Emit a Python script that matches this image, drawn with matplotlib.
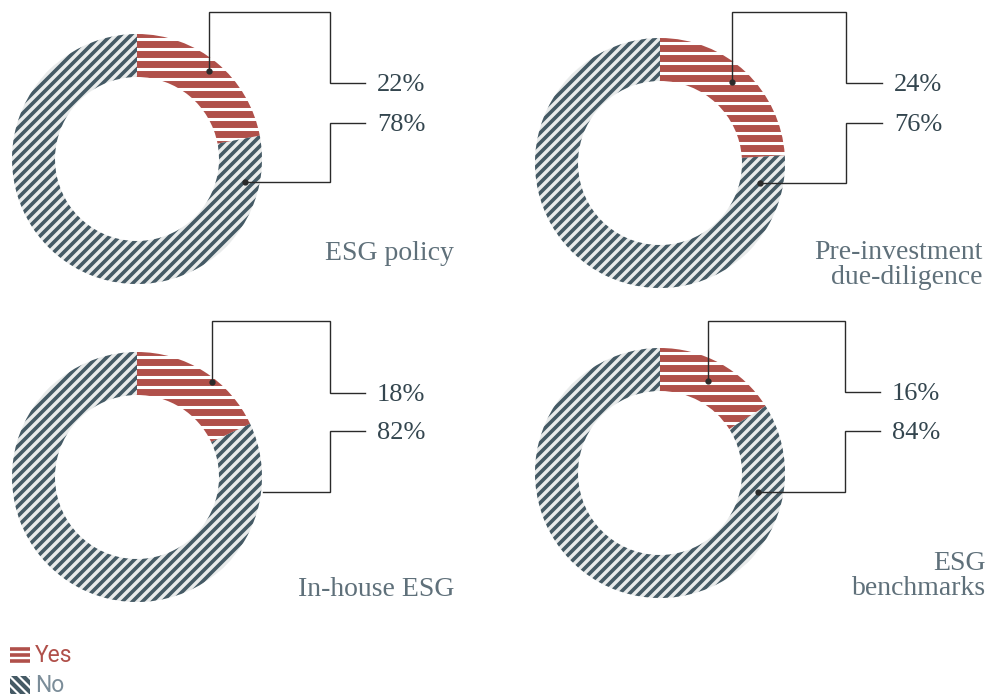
import numpy as np
import matplotlib
matplotlib.use("Agg")
import matplotlib.pyplot as plt
from matplotlib.collections import LineCollection
from matplotlib.patches import Rectangle

# data
categories = ["ESG policy", "Pre-investment\ndue-diligence", "In-house ESG", "ESG\nbenchmarks"]
yes_pct = [22, 24, 18, 16]
no_pct = [78, 76, 82, 84]
series = ["Yes", "No"]

# style
RED = "#b0504a"
SLATE = "#455a65"
SLATE_BG = "#e9ebeb"
TXT_DARK = "#34464f"
TXT_LIGHT = "#5f707a"
LINE = "#2a2a2a"
SERIF = "Liberation Serif"

W, H = 990, 696
R_OUT, R_W = 125, 43

# layout in pixel space (x right, y down)
centers = [(137, 159), (660, 163), (137, 477), (660, 473)]
# leader anchors relative to centre: yes dot, no dot, top of bracket, bracket x, end x
yes_dot = [(72, -88), (72, -81), (75, -95), (48, -92)]
no_dot = [(108, 23), (100, 20), (126, 15), (98, 19)]
no_dot_shown = [True, True, False, True]
top_off = [-147, -151, -156, -152]
brk_x = [193, 186, 193, 185]
end_x = [228, 222, 228, 220]
yes_lab_y = [-76, -80, -84, -81]
no_lab_y = [-36, -40, -46, -42]
cat_xy = [(454, 253), (983, 265), (454, 589), (986, 576)]
TXT_NUDGE = 2  # va="center" sits a bit high for digits


def stripes(ax, patch, cx, cy, r, kind, color, lw, step):
    segs = []
    if kind == "h":
        for y in np.arange(cy - r - step, cy + r + step, step):
            segs.append([(cx - r - 5, y), (cx + r + 5, y)])
    else:
        x0, x1 = cx - r - 10, cx + r + 10
        for k in np.arange(cx + cy - 2 * r - 20, cx + cy + 2 * r + 20, step):
            segs.append([(x0, k - x0), (x1, k - x1)])
    lc = LineCollection(segs, colors=color, linewidths=lw, capstyle="butt")
    ax.add_collection(lc)
    lc.set_clip_path(patch)


fig = plt.figure(figsize=(W / 100, H / 100), dpi=100)
ax = fig.add_axes([0, 0, 1, 1])

for i, (cx, cy) in enumerate(centers):
    wedges, _ = ax.pie([yes_pct[i], no_pct[i]], center=(cx, cy), radius=R_OUT,
                       startangle=-90, counterclock=True,
                       colors=["white", SLATE_BG],
                       wedgeprops=dict(width=R_W, linewidth=0))
    stripes(ax, wedges[0], cx, cy, R_OUT, "h", RED, 5.0, 10.0)
    stripes(ax, wedges[1], cx, cy, R_OUT, "d", SLATE, 2.6, 10.0)

    # leader lines
    yx, yy = cx + yes_dot[i][0], cy + yes_dot[i][1]
    bx, ex = cx + brk_x[i], cx + end_x[i]
    ty, ly = cy + top_off[i], cy + yes_lab_y[i]
    ax.plot([yx, yx, bx, bx, ex], [yy, ty, ty, ly, ly], color=LINE, lw=1.0,
            solid_joinstyle="miter")
    ax.plot([yx], [yy], "o", color=LINE, ms=3.5)
    nx, ny = cx + no_dot[i][0], cy + no_dot[i][1]
    nly = cy + no_lab_y[i]
    ax.plot([nx, bx, bx, ex], [ny, ny, nly, nly], color=LINE, lw=1.0,
            solid_joinstyle="miter")
    if no_dot_shown[i]:
        ax.plot([nx], [ny], "o", color=LINE, ms=3.5)

    ax.text(ex + 12, ly + TXT_NUDGE, f"{yes_pct[i]}%", family=SERIF, fontsize=19,
            color=TXT_DARK, va="center", ha="left")
    ax.text(ex + 12, nly + TXT_NUDGE, f"{no_pct[i]}%", family=SERIF, fontsize=19,
            color=TXT_DARK, va="center", ha="left")
    ax.text(cat_xy[i][0], cat_xy[i][1], categories[i], family=SERIF, fontsize=20,
            color=TXT_LIGHT, va="center", ha="right", multialignment="right",
            linespacing=0.98)

# legend, drawn by hand so the stripe icons match the donuts
box_yes = Rectangle((10, 646), 20, 17, facecolor="white", edgecolor="none")
ax.add_patch(box_yes)
stripes(ax, box_yes, 20, 655, 12, "h", RED, 2.6, 6.0)
box_no = Rectangle((10, 676), 20, 18, facecolor="white", edgecolor="none")
ax.add_patch(box_no)
segs = [[(x, 672), (x + 26, 698)] for x in np.arange(-8, 32, 9)]
lc = LineCollection(segs, colors=SLATE, linewidths=3.0)
ax.add_collection(lc)
lc.set_clip_path(box_no)
ax.text(35, 656, series[0], family="Roboto", fontsize=16.5, color=RED, va="center")
ax.text(35, 686, series[1], family="Roboto", fontsize=16.5, color="#7b8d99", va="center")

ax.set_xlim(0, W)
ax.set_ylim(H, 0)
ax.set_aspect("auto")
ax.axis("off")

fig.savefig("out.png", dpi=100, facecolor="white")
